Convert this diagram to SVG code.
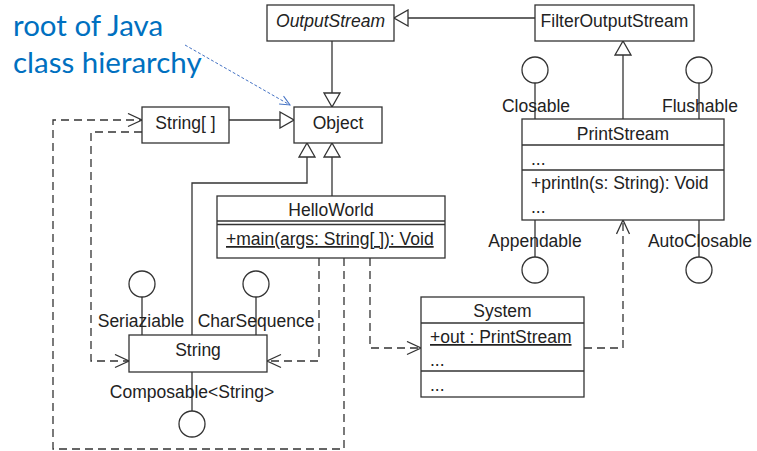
<svg xmlns="http://www.w3.org/2000/svg" width="757" height="451" viewBox="0 0 757 451">
<style>
  .box { fill: #fff; stroke: #333; stroke-width: 1.3; }
  .ln { fill: none; stroke: #333; stroke-width: 1.3; }
  .dep { fill: none; stroke: #333; stroke-width: 1.3; stroke-dasharray: 8 5; }
  .lol { fill: #fff; stroke: #333; stroke-width: 1.3; }
  text { font-family: "Liberation Sans", Arial, sans-serif; font-size: 17.5px; fill: #222; }
  .c { text-anchor: middle; }
  .it { font-style: italic; }
  .u { text-decoration: underline; }
  .note { font-family: Lato, "Open Sans", sans-serif; font-size: 29.5px; fill: #0070C0; }
</style>
<defs>
  <marker id="tri" markerUnits="userSpaceOnUse" markerWidth="16" markerHeight="18" viewBox="-1 -1 16 18" refX="14" refY="8" orient="auto">
    <path d="M0,0 L14,8 L0,16 Z" fill="#fff" stroke="#333" stroke-width="1.3"/>
  </marker>
  <marker id="open" markerUnits="userSpaceOnUse" markerWidth="16" markerHeight="16" viewBox="-1 -1 16 16" refX="14" refY="6.5" orient="auto">
    <path d="M0,0 L14,6.5 L0,13" fill="none" stroke="#333" stroke-width="1.3"/>
  </marker>
  <marker id="blue" markerUnits="userSpaceOnUse" markerWidth="12" markerHeight="12" viewBox="-1 -1 12 12" refX="10" refY="4.5" orient="auto">
    <path d="M0,0 L10,4.5 L0,9" fill="none" stroke="#4472C4" stroke-width="1"/>
  </marker>
</defs>

<g id="note">
  <text class="note" x="13" y="36">root of Java</text>
  <text class="note" x="13" y="73">class hierarchy</text>
</g>

<g id="connectors">
  <line x1="185" y1="45" x2="290" y2="105" stroke="#4472C4" stroke-width="1" stroke-dasharray="3 2" marker-end="url(#blue)"/>
  <!-- generalizations -->
  <path class="ln" d="M535,18 L394,18" marker-end="url(#tri)"/>
  <path class="ln" d="M332,41 L332,107" marker-end="url(#tri)"/>
  <path class="ln" d="M229,120 L294,120" marker-end="url(#tri)"/>
  <path class="ln" d="M332,196 L332,143" marker-end="url(#tri)"/>
  <path class="ln" d="M192,335 L192,183 L307,183 L307,143" marker-end="url(#tri)"/>
  <path class="ln" d="M623,119 L623,41" marker-end="url(#tri)"/>
  <!-- dependencies -->
  <path class="dep" d="M344,258 L344,449 L53,449 L53,120 L142,120" marker-end="url(#open)"/>
  <path class="dep" d="M142,132 L91,132 L91,361 L129,361" marker-end="url(#open)"/>
  <path class="dep" d="M319,258 L319,361 L267,361" marker-end="url(#open)"/>
  <path class="dep" d="M370,258 L370,348 L421,348" marker-end="url(#open)"/>
  <path class="dep" d="M584,348 L623,348 L623,220" marker-end="url(#open)"/>
  <!-- lollipop stems -->
  <line class="ln" x1="535" y1="83" x2="535" y2="119"/>
  <line class="ln" x1="699" y1="83" x2="699" y2="119"/>
  <line class="ln" x1="535" y1="220" x2="535" y2="257"/>
  <line class="ln" x1="699" y1="220" x2="699" y2="257"/>
  <line class="ln" x1="142" y1="297" x2="142" y2="335"/>
  <line class="ln" x1="256" y1="297" x2="256" y2="335"/>
  <line class="ln" x1="192" y1="372" x2="192" y2="411"/>
</g>

<g id="OutputStream">
  <rect class="box" x="267" y="5" width="127" height="36"/>
  <text class="c it" x="330.5" y="27">OutputStream</text>
</g>

<g id="FilterOutputStream">
  <rect class="box" x="535" y="5" width="159" height="36"/>
  <text class="c" x="614.5" y="27">FilterOutputStream</text>
</g>

<g id="Object">
  <rect class="box" x="294" y="107" width="88" height="36"/>
  <text class="c" x="338" y="129">Object</text>
</g>

<g id="StringArray">
  <rect class="box" x="142" y="107" width="87" height="36"/>
  <text class="c" x="185.5" y="129">String[ ]</text>
</g>

<g id="HelloWorld">
  <rect class="box" x="217" y="196" width="228" height="62"/>
  <line class="ln" x1="217" y1="221" x2="445" y2="221"/>
  <line class="ln" x1="217" y1="224.5" x2="445" y2="224.5"/>
  <text class="c" x="331" y="216">HelloWorld</text>
  <text class="u" x="226" y="245">+main(args: String[ ]): Void</text>
</g>

<g id="PrintStream">
  <rect class="box" x="522" y="119" width="202" height="101"/>
  <line class="ln" x1="522" y1="145" x2="724" y2="145"/>
  <line class="ln" x1="522" y1="170" x2="724" y2="170"/>
  <text class="c" x="623" y="140">PrintStream</text>
  <text x="531" y="165">...</text>
  <text x="531" y="189">+println(s: String): Void</text>
  <text x="531" y="213">...</text>
</g>

<g id="Closable">
  <circle class="lol" cx="535" cy="70" r="13"/>
  <text class="c" x="536" y="112">Closable</text>
</g>
<g id="Flushable">
  <circle class="lol" cx="699" cy="70" r="13"/>
  <text class="c" x="700" y="112">Flushable</text>
</g>
<g id="Appendable">
  <circle class="lol" cx="535" cy="270" r="13"/>
  <text class="c" x="535" y="247">Appendable</text>
</g>
<g id="AutoClosable">
  <circle class="lol" cx="699" cy="270" r="13"/>
  <text class="c" x="700" y="247">AutoClosable</text>
</g>

<g id="System">
  <rect class="box" x="421" y="297" width="163" height="100"/>
  <line class="ln" x1="421" y1="323" x2="584" y2="323"/>
  <line class="ln" x1="421" y1="371" x2="584" y2="371"/>
  <text class="c" x="502.5" y="317">System</text>
  <text class="u" x="430" y="343">+out : PrintStream</text>
  <text x="430" y="366">...</text>
  <text x="430" y="391">...</text>
</g>

<g id="String">
  <rect class="box" x="129" y="335" width="138" height="37"/>
  <text class="c" x="198" y="356">String</text>
</g>

<g id="Seriaziable">
  <circle class="lol" cx="142" cy="284" r="13"/>
  <text class="c" x="141" y="327">Seriaziable</text>
</g>
<g id="CharSequence">
  <circle class="lol" cx="256" cy="284" r="13"/>
  <text class="c" x="256" y="327">CharSequence</text>
</g>
<g id="Composable">
  <circle class="lol" cx="192" cy="424" r="13"/>
  <text class="c" x="192" y="398">Composable&lt;String&gt;</text>
</g>
</svg>
